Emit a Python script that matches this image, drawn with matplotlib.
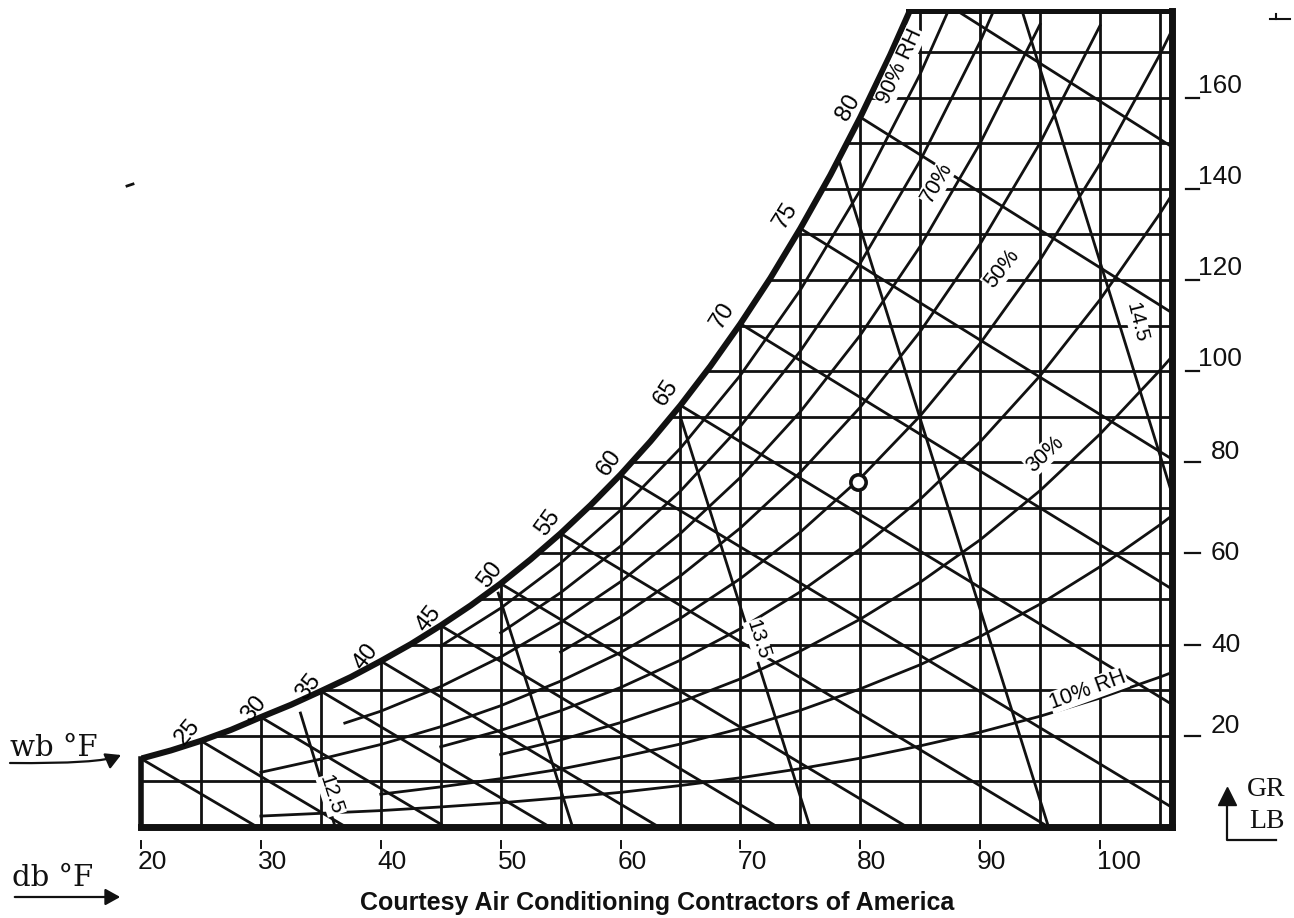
import matplotlib
matplotlib.use("Agg")
import matplotlib.pyplot as plt
from matplotlib.lines import Line2D
from matplotlib.patches import FancyArrowPatch
from matplotlib.path import Path

W, H = 1294, 918

# ---------------- data ----------------
db_ticks = [20, 30, 40, 50, 60, 70, 80, 90, 100]
gr_ticks = [20, 40, 60, 80, 100, 120, 140, 160]
grid_gr = [10, 20, 30, 40, 50, 60, 70, 80, 90, 100, 110, 120, 130, 140, 150, 160, 170]
grid_db = [25, 30, 35, 40, 45, 50, 55, 60, 65, 70, 75, 80, 85, 90, 95, 100, 105]

# saturation curve (grains / lb)
sat_db = [20, 22.5, 25, 27.5, 30, 32.5, 35, 37.5, 40, 42.5, 45, 47.5, 50, 52.5, 55,
          57.5, 60, 62.5, 65, 67.5, 70, 72.5, 75, 77.5, 80, 82.5, 85]
sat_gr = [15.0, 16.8, 18.9, 21.3, 24.1, 26.8, 29.8, 32.9, 36.4, 40.1, 44.2, 48.6, 53.4,
          58.7, 64.4, 70.6, 77.3, 84.6, 92.5, 101.1, 110.4, 120.4, 131.3, 143.0, 155.7,
          169.4, 184.2]

# wet bulb lines
wb_temps = [20, 25, 30, 35, 40, 45, 50, 55, 60, 65, 70, 75, 80, 85]
wb_start_db = [20, 25, 30, 35, 40, 45, 50, 55, 60, 65, 70, 75, 80, 88.1]
wb_start_gr = [15.0, 18.9, 24.1, 29.8, 36.4, 44.2, 53.4, 64.4, 77.3, 92.5, 110.4, 131.3, 155.7, 179]
wb_end_db = [29.7, 37.1, 45.4, 54.1, 63.2, 73.1, 83.9, 95.7, 106, 106, 106, 106, 106, 106]
wb_end_gr = [0, 0, 0, 0, 0, 0, 0, 0, 4.3, 26.9, 52.2, 80.7, 112.8, 149.2]
wb_label_text = ["25", "30", "35", "40", "45", "50", "55", "60", "65", "70", "75", "80"]

# specific volume lines (cu ft / lb)
vol_values = ["12.5", "13.0", "13.5", "14.0", "14.5"]
vol_start_db = [33.3, 49.8, 65.0, 78.3, 93.5]
vol_start_gr = [25.0, 51.3, 89.9, 145.6, 179]
vol_end_db = [36.2, 56.0, 75.8, 95.7, 106]
vol_end_gr = [0, 0, 0, 0, 73.1]

# relative humidity curves
rh_db_10 = [30, 35, 40, 45, 50, 55, 60, 65, 70, 75, 80, 85, 90, 95, 100, 105, 106]
rh_gr_10 = [2.4, 3.0, 3.6, 4.4, 5.3, 6.4, 7.6, 9.1, 10.8, 12.8, 15.1, 17.8, 20.8, 24.3, 28.3, 32.9, 33.9]
rh_db_20 = [40, 45, 50, 55, 60, 65, 70, 75, 80, 85, 90, 95, 100, 105, 106]
rh_gr_20 = [7.2, 8.8, 10.6, 12.7, 15.3, 18.2, 21.6, 25.6, 30.3, 35.6, 41.8, 48.9, 57.1, 66.3, 68.3]
rh_db_30 = [50, 55, 60, 65, 70, 75, 80, 85, 90, 95, 100, 105, 106]
rh_gr_30 = [15.9, 19.1, 22.9, 27.4, 32.5, 38.6, 45.6, 53.7, 63.0, 73.8, 86.2, 100.2, 103.2]
rh_db_40 = [45, 50, 55, 60, 65, 70, 75, 80, 85, 90, 95, 100, 105, 106]
rh_gr_40 = [17.6, 21.2, 25.5, 30.6, 36.6, 43.5, 51.6, 61.0, 71.9, 84.5, 99.0, 115.7, 134.6, 138.7]
rh_db_50 = [30, 35, 40, 45, 50, 55, 60, 65, 70, 75, 80, 85, 90, 95, 100, 105, 106]
rh_gr_50 = [12.0, 14.9, 18.1, 22.0, 26.6, 32.0, 38.3, 45.8, 54.5, 64.7, 76.5, 90.2, 106.1, 124.4, 145.5, 169.5, 174.8]
rh_db_60 = [55, 60, 65, 70, 75, 80, 85, 90, 95, 100]
rh_gr_60 = [38.4, 46.1, 55.1, 65.6, 77.8, 92.1, 108.7, 127.9, 150.1, 175.8]
rh_db_70 = [37, 40, 45, 50, 55, 60, 65, 70, 75, 80, 85, 90, 95]
rh_gr_70 = [22.8, 25.4, 30.8, 37.3, 44.9, 53.8, 64.4, 76.7, 91.1, 107.9, 127.4, 150.0, 176.1]
rh_db_80 = [50, 55, 60, 65, 70, 75, 80, 85, 90, 95]
rh_gr_80 = [42.6, 51.4, 61.6, 73.7, 87.9, 104.4, 123.7, 146.2, 172.3, 202.4]
rh_db_90 = [45, 50, 55, 60, 65, 70, 75, 80, 85, 90]
rh_gr_90 = [39.7, 48.0, 57.9, 69.5, 83.1, 99.1, 117.8, 139.7, 165.2, 194.8]

point_db = [79.8]
point_gr = [75.7]

# ---------------- helpers (pixel calibration) ----------------
PX_DB20, PX_DB106 = 141, 1172
PY_GR0, PY_GR179 = 827, 11
XS = (PX_DB106 - PX_DB20) / 86.0
YS = (PY_GR0 - PY_GR179) / 179.0


def p2d(x, y):
    return 20 + (x - PX_DB20) / XS, (PY_GR0 - y) / YS


def fx(x):
    return x / W


def fy(y):
    return (H - y) / H


LC = "#111111"
LW = 2.0
SANS = ["Liberation Sans", "DejaVu Sans"]
NARROW = ["Liberation Sans Narrow", "Liberation Sans", "DejaVu Sans"]
SERIF = ["DejaVu Serif", "Liberation Serif"]

fig = plt.figure(figsize=(W / 100, H / 100), dpi=100)
ax = fig.add_axes([fx(PX_DB20), fy(PY_GR0), (PX_DB106 - PX_DB20) / W, (PY_GR0 - PY_GR179) / H])
ax.set_xlim(20, 106)
ax.set_ylim(0, 179)
ax.axis("off")

# grid
for g in grid_gr:
    ax.plot([20, 106], [g, g], color=LC, lw=LW, zorder=1, solid_capstyle="butt")
for d in grid_db:
    ax.plot([d, d], [0, 179], color=LC, lw=LW, zorder=1, solid_capstyle="butt")

# wet bulb lines
for sd, sg, ed, eg in zip(wb_start_db, wb_start_gr, wb_end_db, wb_end_gr):
    ax.plot([sd, ed], [sg, eg], color=LC, lw=LW, zorder=1)

# volume lines
for sd, sg, ed, eg in zip(vol_start_db, vol_start_gr, vol_end_db, vol_end_gr):
    ax.plot([sd, ed], [sg, eg], color=LC, lw=LW, zorder=1)

# RH curves
for xs, ys in [(rh_db_10, rh_gr_10), (rh_db_20, rh_gr_20), (rh_db_30, rh_gr_30),
               (rh_db_40, rh_gr_40), (rh_db_50, rh_gr_50), (rh_db_60, rh_gr_60),
               (rh_db_70, rh_gr_70), (rh_db_80, rh_gr_80), (rh_db_90, rh_gr_90)]:
    ax.plot(xs, ys, color=LC, lw=LW, zorder=1)

# mask above saturation curve
ax.fill_between(sat_db, sat_gr, 260, color="white", zorder=2, lw=0)

# borders
ax.plot(sat_db, sat_gr, color=LC, lw=4.4, zorder=3, solid_capstyle="round")
ax.plot([20, 20], [0, 15.0], color=LC, lw=4.0, zorder=3, clip_on=False)
ax.plot([20, 106], [0, 0], color=LC, lw=5.0, zorder=3, clip_on=False, solid_capstyle="projecting")
ax.plot([106, 106], [0, 179], color=LC, lw=5.0, zorder=3, clip_on=False, solid_capstyle="projecting")
ax.plot([84, 106], [179, 179], color=LC, lw=3.6, zorder=3, clip_on=False, solid_capstyle="projecting")

# state point
ax.plot(point_db, point_gr, "o", ms=11, mfc="white", mec=LC, mew=2.6, zorder=6)

# wet-bulb labels along saturation
wb_lab_px = [(188, 732), (254, 709), (308, 687), (366, 657), (429, 619), (490, 575),
             (548, 523), (609, 463), (666, 393), (723, 316), (786, 216), (848, 108)]
wb_lab_rot = [50, 50, 52, 52, 52, 53, 54, 55, 56, 58, 58, 60]
for t, (px, py), r in zip(wb_label_text, wb_lab_px, wb_lab_rot):
    x, y = p2d(px, py)
    ax.text(x, y, t, rotation=r, ha="center", va="center", fontsize=17,
            family=SANS, zorder=5, rotation_mode="anchor", clip_on=False)

# RH labels
rh_labels = ["90% RH", "70%", "50%", "30%", "10% RH"]
rh_lab_px = [(900, 66), (937, 183), (1002, 269), (1045, 454), (1088, 690)]
rh_lab_rot = [65, 60, 52, 43, 20]
for t, (px, py), r in zip(rh_labels, rh_lab_px, rh_lab_rot):
    x, y = p2d(px, py)
    ax.text(x, y, t, rotation=r, ha="center", va="center", fontsize=15.5, family=SANS,
            zorder=5, rotation_mode="anchor",
            bbox=dict(fc="white", ec="none", pad=0.5))

# volume labels
vol_lab = ["12.5", "13.5", "14.5"]
vol_lab_px = [(331, 795), (758, 640), (1137, 322)]
vol_lab_rot = [-72, -72, -76]
for t, (px, py), r in zip(vol_lab, vol_lab_px, vol_lab_rot):
    x, y = p2d(px, py)
    ax.text(x, y, t, rotation=r, ha="center", va="center", fontsize=15, family=SANS,
            zorder=5, rotation_mode="anchor",
            bbox=dict(fc="white", ec="none", pad=0.3))

# x ticks (db)
for d in db_ticks:
    px = PX_DB20 + (d - 20) * XS
    fig.add_artist(Line2D([fx(px), fx(px)], [fy(841), fy(848)], color=LC, lw=1.4))
    fig.text(fx(px - 3), fy(862), str(d), ha="left", va="center", fontsize=19,
             family=NARROW, color=LC)

# y ticks (grains)
for g in gr_ticks:
    py = PY_GR0 - g * YS
    if g >= 100:
        fig.add_artist(Line2D([fx(1186), fx(1199)], [fy(py), fy(py)], color=LC, lw=1.6))
        fig.text(fx(1198), fy(py - 5), str(g), ha="left", va="baseline", fontsize=19,
                 family=NARROW, color=LC)
    else:
        fig.add_artist(Line2D([fx(1185), fx(1200)], [fy(py), fy(py)], color=LC, lw=1.6))
        off = -10 if g in (80, 20) else 0
        fig.text(fx(1211), fy(py + off), str(g), ha="left", va="center", fontsize=19,
                 family=NARROW, color=LC)

# left axis captions
fig.text(fx(10), fy(748), "wb °F", ha="left", va="center", fontsize=21, family=SERIF, color=LC)
wb_arrow = Path([(fx(10), fy(763)), (fx(100), fy(764)), (fx(121), fy(755))],
                [Path.MOVETO, Path.CURVE3, Path.CURVE3])
fig.add_artist(FancyArrowPatch(path=wb_arrow, transform=fig.transFigure,
                               arrowstyle="-|>,head_length=9,head_width=5",
                               color=LC, lw=1.6, mutation_scale=1))
fig.text(fx(12), fy(878), "db °F", ha="left", va="center", fontsize=21, family=SERIF, color=LC)
fig.add_artist(FancyArrowPatch((fx(12), fy(897)), (fx(123), fy(897)), transform=fig.transFigure,
                               arrowstyle="-|>,head_length=9,head_width=5",
                               color=LC, lw=1.6, mutation_scale=1))

# GR / LB units
fig.text(fx(1247), fy(789), "GR", ha="left", va="center", fontsize=20, family=["Liberation Serif"], color=LC)
fig.text(fx(1249), fy(821), "LB", ha="left", va="center", fontsize=20, family=["Liberation Serif"], color=LC)
fig.add_artist(Line2D([fx(1227), fx(1227), fx(1276)], [fy(800), fy(840), fy(840)],
                      color=LC, lw=1.6))
fig.add_artist(Line2D([fx(1227)], [fy(796)], marker="^", ms=13, color=LC, lw=0))

# credit line
fig.text(fx(657), fy(903), "Courtesy Air Conditioning Contractors of America",
         ha="center", va="center", fontsize=18, family=SANS, weight="bold", color=LC)

# small marks in the margin of the original
fig.add_artist(Line2D([fx(1270), fx(1290)], [fy(19), fy(19)], color=LC, lw=1.5))
fig.add_artist(Line2D([fx(1276), fx(1276)], [fy(19), fy(14)], color=LC, lw=1.5))
fig.add_artist(Line2D([fx(127), fx(133)], [fy(186), fy(184)], color=LC, lw=2))

fig.savefig("out.png", dpi=100, facecolor="white")
